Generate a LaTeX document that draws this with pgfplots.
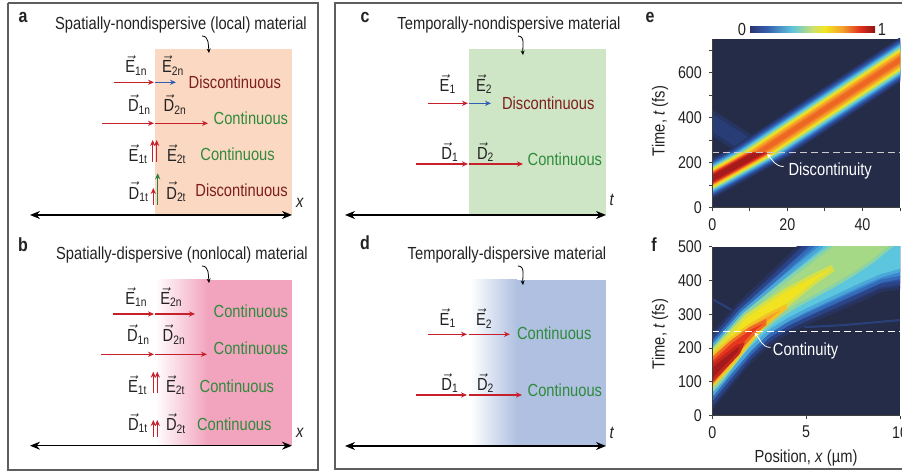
\documentclass[border=0pt]{standalone}
\usepackage{pgfplots}
\pgfplotsset{compat=1.18}
\usetikzlibrary{arrows.meta}
\usepackage{fontspec}
\setmainfont{Liberation Sans}[FakeStretch=0.84]
\definecolor{framec}{HTML}{5E5E5E}
\definecolor{txt}{HTML}{222222}
\definecolor{dred}{HTML}{7E1D1D}
\definecolor{gtxt}{HTML}{2F8A3C}
\definecolor{redar}{HTML}{C8202A}
\definecolor{bluear}{HTML}{2F5FB5}
\definecolor{grar}{HTML}{2E8040}
\definecolor{peach}{HTML}{FBD8C2}
\definecolor{pinkc}{HTML}{F2A3BE}
\definecolor{greenc}{HTML}{CFE6C6}
\definecolor{bluec}{HTML}{AFC0E1}
\definecolor{navyc}{HTML}{252C48}
\definecolor{L0}{HTML}{283A72}
\definecolor{L1}{HTML}{2D4E9C}
\definecolor{L2}{HTML}{3A88D0}
\definecolor{L3}{HTML}{5CC6DE}
\definecolor{L4}{HTML}{B9DE70}
\definecolor{L5}{HTML}{F1E31F}
\definecolor{L6}{HTML}{F6A229}
\definecolor{L7}{HTML}{E5351F}
\definecolor{L8}{HTML}{A51A1A}
\definecolor{jb0}{HTML}{2B3470}
\definecolor{jb1}{HTML}{3560B0}
\definecolor{jb2}{HTML}{5EC6DC}
\definecolor{jb3}{HTML}{C9E070}
\definecolor{jb4}{HTML}{F3E61E}
\definecolor{jb5}{HTML}{F4A02C}
\definecolor{jb6}{HTML}{E1301F}
\definecolor{jb7}{HTML}{8E1414}
\pgfdeclarehorizontalshading{jetbar}{100bp}{color(0bp)=(jb0); color(25bp)=(jb0); color(32bp)=(jb1); color(42bp)=(jb2); color(50bp)=(jb3); color(55bp)=(jb4); color(62bp)=(jb5); color(69bp)=(jb6); color(75bp)=(jb7); color(100bp)=(jb7)}
\newcommand\vl[2]{$\vec{\textrm{#1}}$\textsubscript{#2}}
\newcommand\TW[3]{\node[anchor=west, inner sep=0pt, text=#3] at (axis cs:#1) {#2};}
\tikzset{ar/.style={line width=0.6pt, -{Stealth[length=3pt,width=2.6pt]}},
 dar/.style={line width=0.75pt, black, {Stealth[length=5pt,width=4pt]}-{Stealth[length=5pt,width=4pt]}},
 car/.style={line width=0.4pt, black, -{Stealth[length=2.2pt,width=2pt]}}}
\begin{document}
\begin{tikzpicture}[font=\fontsize{8.75}{10.5}\selectfont]
\begin{axis}[at={(0pt,0pt)}, anchor=south west, width=451pt, height=237.5pt, scale only axis,
 xmin=0, xmax=902, ymin=0, ymax=475, y dir=reverse, hide axis, clip=false]
% frames
\addplot[draw=framec, line width=0.75pt] coordinates {(8,3)(318,3)(318,470)(8,470)(8,3)};
\addplot[draw=framec, line width=0.75pt] coordinates {(910,3)(335,3)(335,469)(910,469)};
% backgrounds
\addplot[draw=none, fill=peach] coordinates {(155,49)(292,49)(292,215)(155,215)};
\addplot[draw=none, left color=white, right color=pinkc] coordinates {(155,280)(208,280)(208,445)(155,445)};
\addplot[draw=none, fill=pinkc] coordinates {(207.5,280)(292,280)(292,445)(207.5,445)};
\addplot[draw=none, fill=greenc] coordinates {(469,49)(606,49)(606,215)(469,215)};
\addplot[draw=none, left color=white, right color=bluec] coordinates {(470,280)(517,280)(517,446)(470,446)};
\addplot[draw=none, fill=bluec] coordinates {(516.5,280)(606,280)(606,446)(516.5,446)};
% axes arrows
\addplot[dar] coordinates {(30,215)(292,215)};
\addplot[dar] coordinates {(30,445.7)(292,445.7)};
\addplot[dar] coordinates {(345,215)(606,215)};
\addplot[dar] coordinates {(345,446)(606,446)};
\node[text=txt] at (axis cs:300,203) {\textit{x}};
\node[text=txt] at (axis cs:300,433) {\textit{x}};
\node[text=txt] at (axis cs:612,200) {\textit{t}};
\node[text=txt] at (axis cs:612,433) {\textit{t}};
% letters
\node[font=\fontsize{9.5}{11}\selectfont\bfseries, text=txt] at (axis cs:23,17) {a};
\node[font=\fontsize{9.5}{11}\selectfont\bfseries, text=txt] at (axis cs:23,245) {b};
\node[font=\fontsize{9.5}{11}\selectfont\bfseries, text=txt] at (axis cs:365,17) {c};
\node[font=\fontsize{9.5}{11}\selectfont\bfseries, text=txt] at (axis cs:365,243) {d};
\node[font=\fontsize{9.5}{11}\selectfont\bfseries, text=txt] at (axis cs:650,17) {e};
\node[font=\fontsize{9.5}{11}\selectfont\bfseries, text=txt] at (axis cs:654,245) {f};
% titles
\node[text=txt] at (axis cs:181,25) {Spatially-nondispersive (local) material};
\node[text=txt] at (axis cs:182,255) {Spatially-dispersive (nonlocal) material};
\node[text=txt] at (axis cs:509,25) {Temporally-nondispersive material};
\node[text=txt] at (axis cs:507,255) {Temporally-dispersive material};
\draw[car] (axis cs:202,36) to[out=0,in=95] (axis cs:209,53);
\draw[car] (axis cs:202,266) to[out=0,in=95] (axis cs:209,283);
\draw[car] (axis cs:518,36) to[out=0,in=95] (axis cs:523,55);
\draw[car] (axis cs:518,266) to[out=0,in=95] (axis cs:523,285);
% panel a
\addplot[ar, redar] coordinates {(114,82.3)(154,82.3)};
\addplot[ar, bluear] coordinates {(155,82.3)(176,82.3)};
\addplot[ar, redar] coordinates {(102,123.3)(154,123.3)};
\addplot[ar, redar] coordinates {(155,123.3)(208,123.3)};
\addplot[ar, redar] coordinates {(152.7,161.7)(152.7,140)};
\addplot[ar, redar] coordinates {(156.7,161.7)(156.7,140)};
\addplot[ar, redar] coordinates {(153.3,205)(153.3,188)};
\addplot[ar, grar] coordinates {(157.7,205)(157.7,173.3)};
\TW{125,65.5}{\vl{E}{1n}}{txt}
\TW{161.7,65.5}{\vl{E}{2n}}{txt}
\TW{127.7,104.5}{\vl{D}{1n}}{txt}
\TW{163.3,104.5}{\vl{D}{2n}}{txt}
\TW{128.3,154}{\vl{E}{1t}}{txt}
\TW{166.7,154}{\vl{E}{2t}}{txt}
\TW{128.3,191.7}{\vl{D}{1t}}{txt}
\TW{166,191.7}{\vl{D}{2t}}{txt}
\TW{188.3,82}{Discontinuous}{dred}
\TW{213.3,118.3}{Continuous}{gtxt}
\TW{200,154.5}{Continuous}{gtxt}
\TW{195,190}{Discontinuous}{dred}
% panel b
\addplot[ar, redar] coordinates {(113,314)(154,314)};
\addplot[ar, redar] coordinates {(155,314)(195,314)};
\addplot[ar, redar] coordinates {(101,354.3)(154,354.3)};
\addplot[ar, redar] coordinates {(155,354.3)(207,354.3)};
\addplot[ar, redar] coordinates {(153.3,393.3)(153.3,371.7)};
\addplot[ar, redar] coordinates {(157.3,393.3)(157.3,371.7)};
\addplot[ar, redar] coordinates {(153.3,436.7)(153.3,420)};
\addplot[ar, redar] coordinates {(157.3,436.7)(157.3,420)};
\TW{125,297}{\vl{E}{1n}}{txt}
\TW{160,297}{\vl{E}{2n}}{txt}
\TW{126.7,334.5}{\vl{D}{1n}}{txt}
\TW{162.3,334.5}{\vl{D}{2n}}{txt}
\TW{127.7,385}{\vl{E}{1t}}{txt}
\TW{165.7,385}{\vl{E}{2t}}{txt}
\TW{127.7,423.3}{\vl{D}{1t}}{txt}
\TW{165.7,423.3}{\vl{D}{2t}}{txt}
\TW{213.3,311.7}{Continuous}{gtxt}
\TW{213.3,348.3}{Continuous}{gtxt}
\TW{199.3,386}{Continuous}{gtxt}
\TW{196.7,424}{Continuous}{gtxt}
% panel c
\addplot[ar, redar] coordinates {(428,103.3)(468,103.3)};
\addplot[ar, bluear] coordinates {(469,103.3)(491,103.3)};
\addplot[ar, redar] coordinates {(416,164)(468,164)};
\addplot[ar, redar] coordinates {(469,164)(523,164)};
\TW{439.3,84}{\vl{E}{1}}{txt}
\TW{475.7,84}{\vl{E}{2}}{txt}
\TW{441,152}{\vl{D}{1}}{txt}
\TW{476.7,152}{\vl{D}{2}}{txt}
\TW{501.7,103}{Discontinuous}{dred}
\TW{527.3,159}{Continuous}{gtxt}
% panel d
\addplot[ar, redar] coordinates {(428,334.3)(467,334.3)};
\addplot[ar, redar] coordinates {(469,334.3)(510,334.3)};
\addplot[ar, redar] coordinates {(416,395)(467,395)};
\addplot[ar, redar] coordinates {(469,395)(522,395)};
\TW{439.3,318.3}{\vl{E}{1}}{txt}
\TW{475.7,318.3}{\vl{E}{2}}{txt}
\TW{441,383}{\vl{D}{1}}{txt}
\TW{476.7,383}{\vl{D}{2}}{txt}
\TW{516.7,333}{Continuous}{gtxt}
\TW{527.3,390.3}{Continuous}{gtxt}
% colorbar and y labels
\shade[shading=jetbar] (axis cs:750,26.5) rectangle (axis cs:875,32.5);
\node[text=txt] at (axis cs:742,29) {0};
\node[text=txt] at (axis cs:882,29) {1};
\node[rotate=90, text=txt] at (axis cs:660,121) {Time, \textit{t} (fs)};
\node[rotate=90, text=txt] at (axis cs:660,334) {Time, \textit{t} (fs)};
\node[text=txt] at (axis cs:806,457.5) {Position, \textit{x} (µm)};
\end{axis}
% ---------------- panel e heatmap
\begin{axis}[at={(356.15pt,133.65pt)}, anchor=south west, width=93.85pt, height=84.35pt, scale only axis,
 xmin=0, xmax=50, ymin=0, ymax=750, axis lines*=left, axis on top,
 axis background/.style={fill=navyc},
 xtick={0,10,...,50}, xticklabels={0,,20,,40,},
 ytick={0,100,...,700}, yticklabels={0,,200,,400,,600,},
 tick align=outside, major tick length=1.7pt,
 every tick/.style={black!75, line width=0.5pt}, axis line style={black!75, line width=0.5pt},
 tick label style={font=\fontsize{8.5}{10}\selectfont, text=txt},
 /pgf/number format/assume math mode=true]
% faint reflected pulse
\addplot[draw=none, fill=L0, fill opacity=0.6] coordinates {(0,316)(7.0,245)(17.9,245)(0,436)};
\addplot[draw=none, fill=L1, fill opacity=0.35] coordinates {(0,336)(8.9,245)(15.9,245)(0,416)};
% main pulse: before (t<245) and after (t>245) the discontinuity
\addplot[draw=none, fill=navyc!50!L0] coordinates {(0,40)(22.28,245)(2.72,245)(0,220)};
\addplot[draw=none, fill=navyc!50!L0] coordinates {(3.41,245)(21.59,245)(50,557.5)(50,757.5)};
\addplot[draw=none, fill=L0] coordinates {(0,45)(21.74,245)(3.26,245)(0,215)};
\addplot[draw=none, fill=L0] coordinates {(3.86,245)(21.14,245)(50,562.5)(50,752.5)};
\addplot[draw=none, fill=L0!50!L1] coordinates {(0,50)(21.20,245)(3.80,245)(0,210)};
\addplot[draw=none, fill=L0!50!L1] coordinates {(4.32,245)(20.68,245)(50,567.5)(50,747.5)};
\addplot[draw=none, fill=L1] coordinates {(0,55)(20.65,245)(4.35,245)(0,205)};
\addplot[draw=none, fill=L1] coordinates {(4.77,245)(20.23,245)(50,572.5)(50,742.5)};
\addplot[draw=none, fill=L1!50!L2] coordinates {(0,60)(20.11,245)(4.89,245)(0,200)};
\addplot[draw=none, fill=L1!50!L2] coordinates {(5.36,245)(19.64,245)(50,579)(50,736)};
\addplot[draw=none, fill=L2] coordinates {(0,65)(19.57,245)(5.43,245)(0,195)};
\addplot[draw=none, fill=L2] coordinates {(5.95,245)(19.05,245)(50,585.5)(50,729.5)};
\addplot[draw=none, fill=L2!50!L3] coordinates {(0,70)(19.02,245)(5.98,245)(0,190)};
\addplot[draw=none, fill=L2!50!L3] coordinates {(6.41,245)(18.59,245)(50,590.5)(50,724.5)};
\addplot[draw=none, fill=L3] coordinates {(0,75)(18.48,245)(6.52,245)(0,185)};
\addplot[draw=none, fill=L3] coordinates {(6.86,245)(18.14,245)(50,595.5)(50,719.5)};
\addplot[draw=none, fill=L3!50!L4] coordinates {(0,79)(18.04,245)(6.96,245)(0,181)};
\addplot[draw=none, fill=L3!50!L4] coordinates {(7.41,245)(17.59,245)(50,601.5)(50,713.5)};
\addplot[draw=none, fill=L4] coordinates {(0,83)(17.61,245)(7.39,245)(0,177)};
\addplot[draw=none, fill=L4] coordinates {(7.95,245)(17.05,245)(50,607.5)(50,707.5)};
\addplot[draw=none, fill=L4!50!L5] coordinates {(0,86.5)(17.23,245)(7.77,245)(0,173.5)};
\addplot[draw=none, fill=L4!50!L5] coordinates {(8.32,245)(16.68,245)(50,611.5)(50,703.5)};
\addplot[draw=none, fill=L5] coordinates {(0,90)(16.85,245)(8.15,245)(0,170)};
\addplot[draw=none, fill=L5] coordinates {(8.68,245)(16.32,245)(50,615.5)(50,699.5)};
\addplot[draw=none, fill=L5!50!L6] coordinates {(0,94)(16.41,245)(8.59,245)(0,166)};
\addplot[draw=none, fill=L5!50!L6] coordinates {(9.23,245)(15.77,245)(50,621.5)(50,693.5)};
\addplot[draw=none, fill=L6] coordinates {(0,98)(15.98,245)(9.02,245)(0,162)};
\addplot[draw=none, fill=L6] coordinates {(9.77,245)(15.23,245)(50,627.5)(50,687.5)};
\addplot[draw=none, fill=L6!50!L7] coordinates {(0,102)(15.54,245)(9.46,245)(0,158)};
\addplot[draw=none, fill=L7!30!L6] coordinates {(10.59,245)(14.41,245)(50,636.5)(50,678.5)};
\addplot[draw=none, fill=L7] coordinates {(0,106)(15.11,245)(9.89,245)(0,154)};
\addplot[draw=none, fill=L7!55!L6] coordinates {(11.41,245)(13.59,245)(50,645.5)(50,669.5)};
\addplot[draw=none, fill=L7!50!L8] coordinates {(0,111)(14.57,245)(10.43,245)(0,149)};
\addplot[draw=none, fill=L8] coordinates {(0,116)(14.02,245)(10.98,245)(0,144)};
\addplot[white!80!black, line width=0.6pt, dash pattern=on 3.5pt off 2pt] coordinates {(0,245)(50,245)};
\node[text=white] at (axis cs:31.4,163) {Discontinuity};
\draw[white, line width=0.4pt, -{Stealth[length=2.2pt,width=2pt]}] (axis cs:19,183) to[out=180,in=-50] (axis cs:14.6,240);
\end{axis}
% ---------------- panel f heatmap
\begin{axis}[at={(356.15pt,29.65pt)}, anchor=south west, width=93.85pt, height=84.5pt, scale only axis,
 xmin=0, xmax=10, ymin=0, ymax=500, axis lines*=left, axis on top,
 axis background/.style={fill=navyc},
 xtick={0,5,10}, ytick={0,100,...,500},
 tick align=outside, major tick length=1.7pt,
 every tick/.style={black!75, line width=0.5pt}, axis line style={black!75, line width=0.5pt},
 tick label style={font=\fontsize{8.5}{10}\selectfont, text=txt},
 /pgf/number format/assume math mode=true]
\addplot[L1, line width=1pt, opacity=0.6] coordinates {(0,345)(0.8,320)(1.7,290)};
\addplot[L1, line width=1pt, opacity=0.6] coordinates {(4.9,262)(7,268)(10,283)};
\addplot[fill=L0, draw=navyc!50!L0, line width=1.6pt] coordinates {(0,240)(1.4,330)(3.1,420)(4.6,500)(5,540)(11,540)(11,385)(9,370)(8,345)(7,320)(6,297)(5,272)(4,245)(3,210)(2,158)(1,92)(0,25)};
\addplot[fill=L1, draw=L0!50!L1, line width=1.6pt] coordinates {(0,228)(1.4,318)(3.2,407)(4.9,500)(5.3,540)(11,540)(11,402)(9,385)(8,360)(7,335)(6,310)(5,285)(4,258)(3,222)(2,170)(1,103)(0,35)};
\addplot[fill=L2, draw=L1!50!L2, line width=1.6pt] coordinates {(0,215)(1.5,310)(3.3,400)(5.3,500)(5.8,540)(11,540)(11,420)(9,398)(8,373)(7,348)(6,323)(5,297)(4,270)(3,235)(2,183)(1,117)(0,50)};
\addplot[fill=L3, draw=L2!50!L3, line width=1.6pt] coordinates {(0,205)(1.6,305)(3.5,395)(5.8,500)(6.2,540)(11,540)(11,445)(9,414)(8,390)(7,364)(6,338)(5,312)(4,283)(3,248)(2,195)(1,130)(0,62)};
\addplot[fill=L4!80!L3, draw=L3!50!L4, line width=1.6pt] coordinates {(0,195)(1.7,300)(3.7,390)(6.3,500)(6.8,540)(10.2,540)(9.5,500)(8.5,455)(7.5,418)(6.5,385)(5.5,355)(4.5,325)(3.5,290)(2.5,245)(1.5,180)(0.5,105)(0,75)};
\addplot[fill=L5, draw=L4!50!L5, line width=1.6pt] coordinates {(0,188)(1.8,295)(3.9,372)(5.2,410)(6.3,440)(6.4,430)(5.5,395)(4.5,350)(3.5,305)(3,282)(2,218)(1,147)(0,88)};
\addplot[fill=L6, draw=L5!50!L6, line width=1.4pt] coordinates {(0,178)(1,228)(2,268)(3,300)(3.9,325)(3.9,318)(3.3,290)(2.7,262)(2,217)(1,150)(0,90)};
\addplot[fill=L7, draw=L6!50!L7, line width=1.4pt] coordinates {(0,168)(1,218)(2,258)(2.8,280)(2.8,270)(2.2,243)(1.6,205)(1,162)(0,98)};
\addplot[fill=L8, draw=L7!50!L8, line width=1.4pt] coordinates {(0,148)(1.3,205)(1.6,210)(1.4,185)(0.8,150)(0,104)};
\addplot[white, line width=0.6pt, dash pattern=on 3.5pt off 2pt] coordinates {(0,250)(10,250)};
\node[text=white] at (axis cs:4.97,190) {Continuity};
\draw[white, line width=0.4pt, -{Stealth[length=2.2pt,width=2pt]}] (axis cs:3.1,202) to[out=180,in=-50] (axis cs:2.25,246);
\end{axis}
\pgfresetboundingbox
\useasboundingbox (0,0) rectangle (451pt,237.5pt);
\end{tikzpicture}
\end{document}
